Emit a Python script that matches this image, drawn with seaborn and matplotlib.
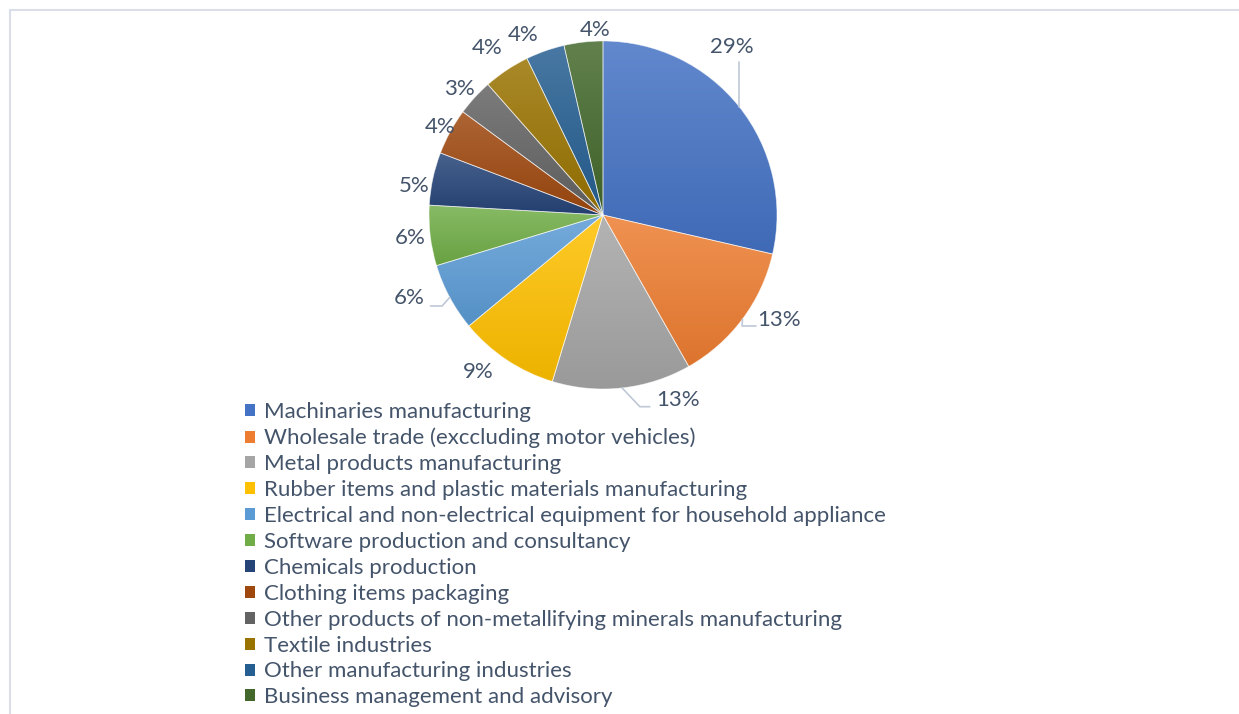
import numpy as np
import matplotlib
matplotlib.use("Agg")
import matplotlib.pyplot as plt
import seaborn as sns
from matplotlib.patches import Patch, Rectangle
from matplotlib.colors import to_rgb

# Sector shares (percent of firms)
sectors = [
    "Machinaries manufacturing",
    "Wholesale trade (exccluding motor vehicles)",
    "Metal products manufacturing",
    "Rubber items and plastic materials manufacturing",
    "Electrical and non-electrical equipment for household appliance",
    "Software production and consultancy",
    "Chemicals production",
    "Clothing items packaging",
    "Other products of non-metallifying minerals manufacturing",
    "Textile industries",
    "Other manufacturing industries",
    "Business management and advisory",
]
shares = [28.6, 13.2, 12.9, 9.3, 6.3, 5.6, 4.9, 4.3, 3.4, 4.3, 3.6, 3.6]
colors = ["#4472C4", "#ED7D31", "#A5A5A5", "#FFC000", "#5B9BD5", "#70AD47",
          "#264478", "#9E480E", "#636363", "#997300", "#255E91", "#43682B"]

# label placement around the pie: radius (in pie radii) and angular nudge (deg)
label_r = [1.22, 1.18, 1.145, 1.155, 1.21, 1.117, 1.10, 1.065, 1.10, 1.17, 1.13, 1.065]
label_dtheta = [14, 6, 15.7, -4.8, -5, 0, 3.4, 0.2, 1.3, 1.1, 4.6, -4]

TEXT = "#44546A"
LEADER = "#BFC8D6"

sns.set_theme(style="white")
plt.rcParams["font.family"] = ["Lato", "DejaVu Sans"]

W, H, DPI = 1239, 714, 100
fig = plt.figure(figsize=(W / DPI, H / DPI), dpi=DPI)

R_PX = 174
cx, cy = 603, 215
L = 1.3
side = 2 * L * R_PX
ax = fig.add_axes([(cx - side / 2) / W, (H - cy - side / 2) / H, side / W, side / H])

palette = sns.color_palette(colors)
wedges, _ = ax.pie(shares, colors=palette, startangle=90, counterclock=False,
                   radius=1.0,
                   wedgeprops=dict(edgecolor=(1, 1, 1, 0.55), linewidth=0.6))

# vertical tint-to-shade gradient inside every slice
for w, c in zip(wedges, palette):
    base = np.array(to_rgb(c))
    top = base + (1 - base) * 0.16
    bot = base * 0.93
    t = np.linspace(0, 1, 64)[:, None]
    grad = (top[None, :] * (1 - t) + bot[None, :] * t)[:, None, :]
    v = w.get_path().vertices
    x0, x1 = v[:, 0].min(), v[:, 0].max()
    y0, y1 = v[:, 1].min(), v[:, 1].max()
    im = ax.imshow(grad, extent=[x0, x1, y0, y1], origin="upper", aspect="auto",
                   interpolation="bilinear", zorder=w.get_zorder() - 0.1)
    im.set_clip_path(w)
    w.set_facecolor("none")

total = sum(shares)
FS = 16
label_pos = []
for i, (w, v) in enumerate(zip(wedges, shares)):
    mid = np.deg2rad((w.theta1 + w.theta2) / 2 + label_dtheta[i])
    lx, ly = label_r[i] * np.cos(mid), label_r[i] * np.sin(mid)
    label_pos.append((lx, ly))
    ax.text(lx, ly, f"{round(v / total * 100):.0f}%", ha="center", va="center",
            fontsize=FS, color=TEXT, clip_on=False)

# leader lines from slice edge to the shifted labels
def anchor(w):
    m = np.deg2rad((w.theta1 + w.theta2) / 2)
    return np.cos(m), np.sin(m)

ax0, ay0 = anchor(wedges[0])
lx, ly = label_pos[0]
ax.plot([ax0, ax0], [ay0, ly - 0.09], color=LEADER, lw=1.2, clip_on=False)

for idx, dx_end, dy_end, tail in [(1, -0.135, -0.035, 0.08),
                                  (2, -0.16, -0.04, 0.057),
                                  (4, 0.12, -0.045, -0.067)]:
    axp, ayp = anchor(wedges[idx])
    lx, ly = label_pos[idx]
    ex, ey = lx + dx_end, ly + dy_end
    ax.plot([axp, ex - tail, ex], [ayp, ey, ey], color=LEADER, lw=1.2, clip_on=False)

ax.set_xlim(-L, L)
ax.set_ylim(-L, L)
ax.set_aspect("equal")
ax.axis("off")

handles = [Patch(facecolor=c, edgecolor="none") for c in palette]
fig.legend(handles, sectors, loc="upper left",
           bbox_to_anchor=(245 / W, 1 - 402 / H), frameon=False,
           fontsize=FS, labelcolor=TEXT, handlelength=0.45, handleheight=0.45,
           handletextpad=0.4, labelspacing=0.265, borderpad=0, borderaxespad=0)

# chart area border
fig.add_artist(Rectangle((9.5 / W, -0.1), 2, (H - 10.5) / H + 0.1,
                         transform=fig.transFigure, fill=False,
                         edgecolor="#D9DEE8", lw=1.5))

fig.savefig("out.png", dpi=DPI, facecolor="white")
